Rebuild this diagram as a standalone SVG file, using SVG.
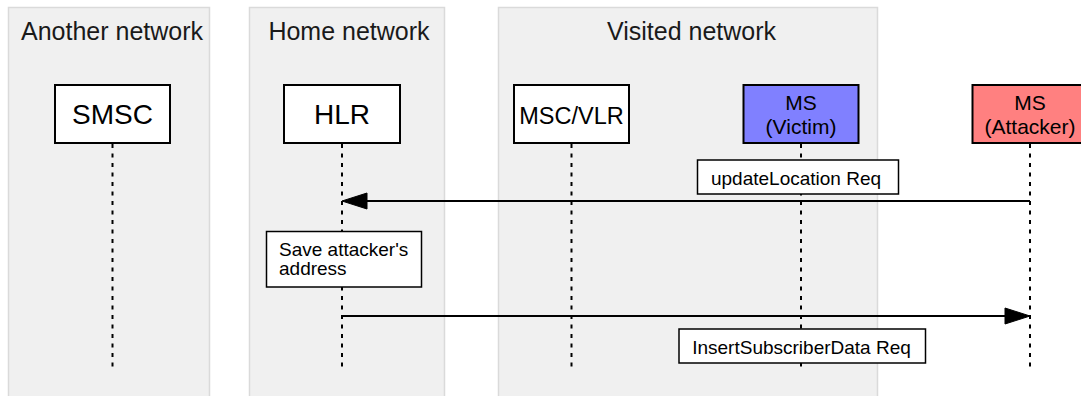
<svg xmlns="http://www.w3.org/2000/svg" width="1081" height="396" viewBox="0 0 1081 396">
<defs>
<style>
.panel{fill:#f0f0f0;stroke:#dadada;stroke-width:1.5}
.title{font-family:"Liberation Sans",Arial,sans-serif;font-size:25px;fill:#1a1a1a;text-anchor:middle}
.node{stroke:#000;stroke-width:2}
.ntext{font-family:"Liberation Sans",Arial,sans-serif;fill:#000;text-anchor:middle}
.life{stroke:#000;stroke-width:2;stroke-dasharray:4 5.5;fill:none}
.msg{stroke:#000;stroke-width:2;fill:none}
.head{fill:#000;stroke:#000;stroke-width:1}
.lbox{fill:#fff;stroke:#000;stroke-width:1.5}
.ltext{font-family:"Liberation Sans",Arial,sans-serif;font-size:19px;fill:#000}
</style>
</defs>
<rect width="1081" height="396" fill="#fff"/>
<g id="panel-another">
<rect class="panel" x="8.5" y="7.5" width="201" height="400"/>
<text class="title" x="112" y="40">Another network</text>
</g>
<g id="panel-home">
<rect class="panel" x="249.5" y="7.5" width="195" height="400"/>
<text class="title" x="349" y="40">Home network</text>
</g>
<g id="panel-visited">
<rect class="panel" x="498.5" y="7.5" width="379" height="400"/>
<text class="title" x="691.5" y="40">Visited network</text>
</g>
<g id="lifelines">
<line class="life" x1="112.5" y1="144" x2="112.5" y2="372"/>
<line class="life" x1="342" y1="144" x2="342" y2="372"/>
<line class="life" x1="571.5" y1="144" x2="571.5" y2="372"/>
<line class="life" x1="801" y1="144" x2="801" y2="372"/>
<line class="life" x1="1030" y1="144" x2="1030" y2="372"/>
</g>
<g id="node-smsc">
<rect class="node" x="55" y="85" width="115" height="58" fill="#fff"/>
<text class="ntext" x="112.5" y="123.5" font-size="28">SMSC</text>
</g>
<g id="node-hlr">
<rect class="node" x="284" y="85" width="116" height="58" fill="#fff"/>
<text class="ntext" x="342" y="123.5" font-size="28">HLR</text>
</g>
<g id="node-mscvlr">
<rect class="node" x="514" y="85" width="115" height="58" fill="#fff"/>
<text class="ntext" x="571.5" y="123.5" font-size="23.5">MSC/VLR</text>
</g>
<g id="node-victim">
<rect class="node" x="743.5" y="85" width="115" height="58" fill="#8080ff"/>
<text class="ntext" x="801" y="109.5" font-size="21">MS</text>
<text class="ntext" x="801" y="133.5" font-size="21">(Victim)</text>
</g>
<g id="node-attacker">
<rect class="node" x="972.5" y="85" width="116" height="58" fill="#ff8080"/>
<text class="ntext" x="1030" y="109.5" font-size="21">MS</text>
<text class="ntext" x="1030" y="133.5" font-size="21">(Attacker)</text>
</g>
<g id="connectors">
<line class="msg" x1="1030" y1="201" x2="362" y2="201"/>
<polygon class="head" points="342,201 367,193 367,209"/>
<line class="msg" x1="342" y1="316" x2="1010" y2="316"/>
<polygon class="head" points="1030,316 1005,308 1005,324"/>
</g>
<g id="label-update">
<rect class="lbox" x="697.5" y="160" width="201" height="34"/>
<text class="ltext" x="796" y="184.5" text-anchor="middle">updateLocation Req</text>
</g>
<g id="label-save">
<rect class="lbox" x="266.5" y="231.5" width="155" height="55.5"/>
<text class="ltext" x="279" y="255.5">Save attacker's</text>
<text class="ltext" x="279" y="275">address</text>
</g>
<g id="label-insert">
<rect class="lbox" x="679" y="329" width="246.5" height="34"/>
<text class="ltext" x="801.5" y="353.5" text-anchor="middle">InsertSubscriberData Req</text>
</g>
</svg>
